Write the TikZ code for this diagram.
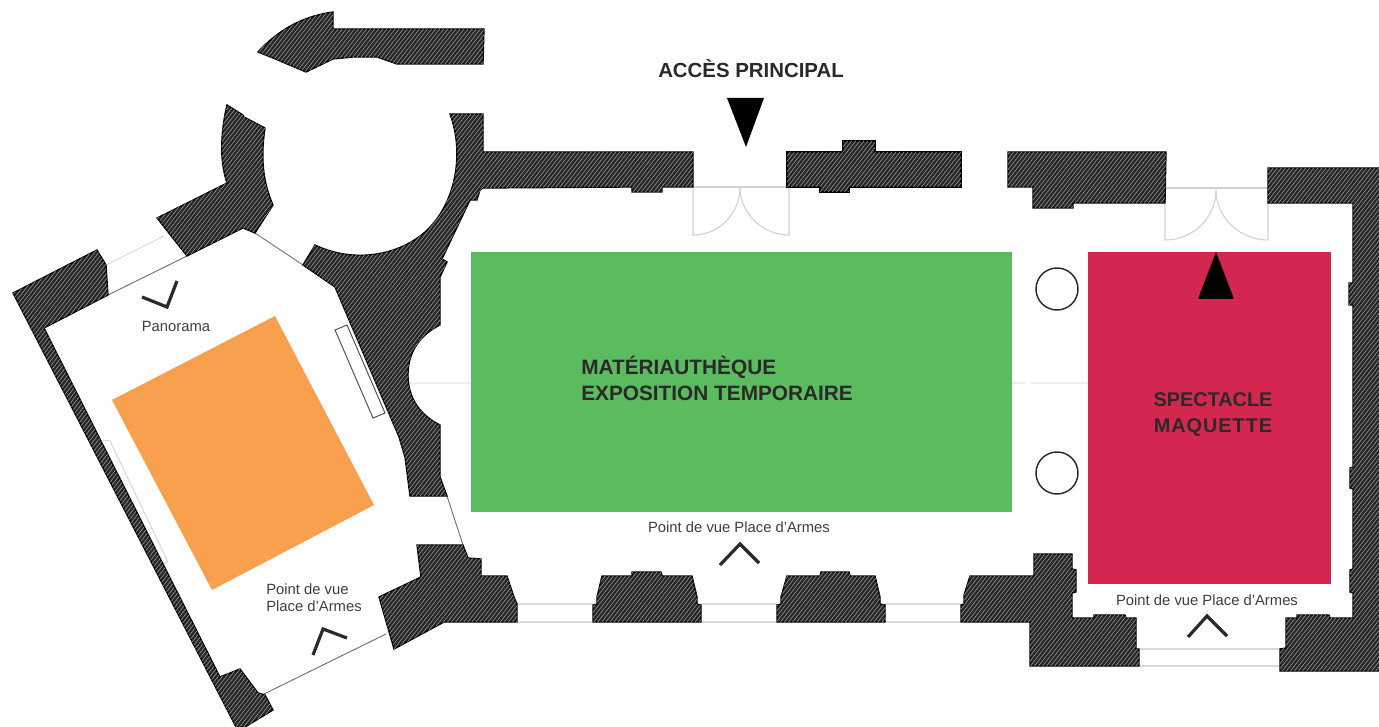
\documentclass[tikz,border=0pt]{standalone}
\usepackage{fontspec}
\setmainfont{Liberation Sans}
\usetikzlibrary{patterns.meta}
\definecolor{wallfill}{HTML}{262626}
\definecolor{hatch}{HTML}{909090}
\definecolor{ink}{HTML}{2A2A2A}
\definecolor{greenzone}{HTML}{5ABC5E}
\definecolor{redzone}{HTML}{D4274F}
\definecolor{orangezone}{HTML}{F9A04F}
\definecolor{faint}{HTML}{E6F2F6}
\tikzset{
  wall/.style={draw=black,line width=1pt,line join=miter,fill=wallfill,
    postaction={pattern={Lines[angle=52,distance=2.4pt,line width=0.5pt]},pattern color=hatch}},
  door/.style={draw=black!18,line width=0.8pt},
  glass/.style={draw=black!15,line width=0.8pt},
  thinline/.style={draw=black!55,line width=0.7pt},
  chevron/.style={draw=ink,line width=2.4pt},
  arrowmark/.style={fill=black,draw=none},
  column/.style={draw=ink,line width=1.1pt,fill=white},
  small/.style={font=\fontsize{11.1pt}{13pt}\selectfont,text=ink!90,inner sep=0pt,align=left},
  head/.style={font=\fontsize{15.3pt}{19.5pt}\selectfont\bfseries,text=ink,inner sep=0pt,align=left}
}
\begin{document}
\begin{tikzpicture}[x=0.75pt,y=-0.75pt]
\path[use as bounding box,clip] (0,0) rectangle (1379,727);
\fill[white] (0,0) rectangle (1379,727);
% faint axis
\draw[faint,line width=0.8pt] (408,383) -- (471,383);
\draw[faint,line width=0.8pt] (1012,383) -- (1025,383) (1031,383) -- (1088,383);
% zones
\fill[greenzone] (471,252) rectangle (1012,512);
\fill[redzone] (1088,252) rectangle (1331,584);
\fill[orangezone] (275,316) -- (374,505) -- (212,590) -- (112,400) -- cycle;
% glazing
\draw[glass] (106,265) -- (164,236);
\draw[glass] (517,604) -- (593,604) (517,622) -- (593,622);
\draw[glass] (701,604) -- (777,604) (701,622) -- (777,622);
\draw[glass] (885,604) -- (961,604) (885,622) -- (961,622);
\draw[glass] (1139,649) -- (1280,649) (1139,666) -- (1280,666);
\draw[glass] (103,440) -- (110,441) -- (168,562) -- (162,564);
% thin walls
\draw[thinline] (108,295) -- (187,256);
\draw[thinline] (255,233) -- (303,265);
\draw[thinline] (447,496) -- (463,545);
\draw[thinline] (264,694) -- (386,634);
\draw[draw=black!70,line width=0.7pt,fill=white] (335,330) -- (347,325) -- (385,413) -- (373,418) -- cycle;
% doors
\draw[door] (693,187) -- (789,187);
\draw[door] (693,187) -- (693,235) .. controls (718,235) and (740,215) .. (740,187);
\draw[door] (789,187) -- (789,235) .. controls (764,235) and (740,215) .. (740,187);
\draw[door] (1165,188) -- (1268,188);
\draw[door] (1165,188) -- (1165,240) .. controls (1193,240) and (1216,218) .. (1216,190);
\draw[door] (1268,188) -- (1268,240) .. controls (1240,240) and (1216,218) .. (1216,190);
% walls
\path[wall] (333,12) -- (333,29) -- (484,29) -- (483,64) -- (397,64) -- (377,57) -- (353,57) -- (333,59) -- (306,72) -- (273,58) -- (258,52) .. controls (278,30) and (303,16) .. (333,12) -- cycle;
\path[wall] (227,105) -- (243,115) -- (244,117) -- (265,128) .. controls (261,155) and (262,180) .. (273,205) -- (255,233) -- (243,228) -- (187,256) -- (157,218) -- (227,183) .. controls (219,160) and (221,130) .. (227,105) -- cycle;
\path[wall] (450,114) -- (483,114) -- (483,152) -- (693,152) -- (693,187) -- (662,187) -- (662,192) -- (632,192) -- (632,187) -- (483,188) -- (480,190) -- (477,200) -- (470,200) -- (442,259) -- (447,262) -- (440,277) -- (440,325) .. controls (420,335) and (408,352) .. (408,375) .. controls (408,398) and (420,415) .. (440,425) -- (440,477) -- (447,496) -- (410,496) -- (405,457) -- (399,437) -- (335,287) -- (303,265) -- (315,245) .. controls (350,262) and (395,258) .. (425,232) .. controls (455,205) and (465,155) .. (450,114) -- cycle;
\path[wall] (787,152) -- (843,152) -- (843,141) -- (875,141) -- (875,152) -- (961,152) -- (961,187) -- (849,187) -- (849,192) -- (820,192) -- (820,187) -- (787,187) -- cycle;
\path[wall] (1008,152) -- (1166,152) -- (1165,203) -- (1073,203) -- (1073,208) -- (1033,208) -- (1033,187) -- (1008,187) -- cycle;
\path[wall] (1268,168) -- (1385,168) -- (1385,671) -- (1280,671) -- (1280,649) -- (1286,648) -- (1286,618) -- (1297,618) -- (1297,615) -- (1329,615) -- (1330,618) -- (1353,618) -- (1353,593) -- (1350,592) -- (1350,570) -- (1353,569) -- (1353,489) -- (1350,488) -- (1350,468) -- (1353,467) -- (1353,305) -- (1349,305) -- (1349,283) -- (1353,283) -- (1353,203) -- (1268,203) -- cycle;
\path[wall] (13,293) -- (97,250) -- (106,265) -- (108,295) -- (44,328) -- (220,677) -- (240,669) -- (258,693) -- (265,695) -- (273,710) -- (245,727) -- (236,727) -- cycle;
\path[wall] (417,545) -- (463,545) -- (468,558) -- (481,559) -- (481,576) -- (507,576) -- (514,597) -- (517,604) -- (517,622) -- (444,622) -- (394,649) -- (379,597) -- (421,577) -- cycle;
\path[wall] (602,576) -- (632,576) -- (632,572) -- (661,572) -- (662,576) -- (692,576) -- (697,597) -- (697,604) -- (701,605) -- (701,622) -- (593,622) -- (593,605) -- (597,604) -- (597,597) -- cycle;
\path[wall] (787,576) -- (820,576) -- (821,572) -- (849,572) -- (850,576) -- (875,576) -- (880,597) -- (880,604) -- (885,605) -- (885,622) -- (777,622) -- (777,605) -- (781,604) -- (781,597) -- cycle;
\path[wall] (970,576) -- (1034,576) -- (1034,554) -- (1072,554) -- (1072,569) -- (1076,570) -- (1076,592) -- (1072,593) -- (1072,618) -- (1094,618) -- (1094,615) -- (1125,615) -- (1126,618) -- (1136,618) -- (1136,649) -- (1139,649) -- (1139,666) -- (1030,666) -- (1030,622) -- (961,622) -- (961,605) -- (964,604) -- (964,595) -- cycle;
% columns
\draw[column] (1057,289) circle (21);
\draw[column] (1057,473) circle (21);
% entrance marks
\fill[arrowmark] (727,98) -- (764,98) -- (746,147) -- cycle;
\fill[arrowmark] (1216,252) -- (1198,299) -- (1234,299) -- cycle;
% viewpoints
\draw[chevron] (142,297) -- (167,307) -- (177,281);
\draw[chevron] (313,655) -- (323,629) -- (347,638);
\draw[chevron] (720,565) -- (740,544) -- (759,563);
\draw[chevron] (1188,637) -- (1207,616) -- (1227,636);
% labels
\node[head,anchor=center] (acces) at (751,68.5) {ACCÈS PRINCIPAL};
\node[head,anchor=west,font=\fontsize{15.6pt}{19.5pt}\selectfont\bfseries] (mat) at (581,378.5) {MATÉRIAUTHÈQUE\\EXPOSITION TEMPORAIRE};
\node[head,anchor=center,align=center,font=\fontsize{14.9pt}{19.5pt}\selectfont\bfseries] (spec) at (1213,414.5) {SPECTACLE\\\addfontfeature{LetterSpace=5}MAQUETTE};
\node[small,anchor=center] (pano) at (176,326) {Panorama};
\node[small,anchor=west] (pv1) at (266,598) {Point de vue\\Place d’Armes};
\node[small,anchor=center] (pv2) at (739,527) {Point de vue Place d’Armes};
\node[small,anchor=center] (pv3) at (1207,600) {Point de vue Place d’Armes};
\end{tikzpicture}
\end{document}
